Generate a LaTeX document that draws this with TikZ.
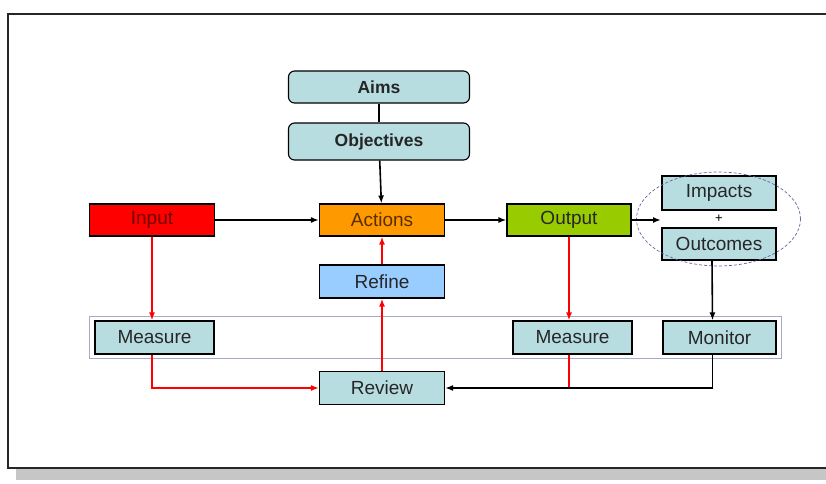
\documentclass[tikz,border=0pt]{standalone}
\usepackage{fontspec}
\setmainfont{Liberation Sans}
\usetikzlibrary{arrows.meta,shapes.geometric}

\definecolor{paleteal}{HTML}{B8DDE1}
\definecolor{boxred}{HTML}{FF0000}
\definecolor{boxorange}{HTML}{FF9900}
\definecolor{boxgreen}{HTML}{99CC00}
\definecolor{boxblue}{HTML}{99CCFF}
\definecolor{bandline}{HTML}{A8A8C8}

\tikzset{
  box/.style={draw, line width=1.1pt, inner sep=0pt, minimum width=125pt,
    minimum height=32pt, font=\fontsize{19}{19}\selectfont, text=black!85},
  goal/.style={box, rounded corners=6pt, fill=paleteal, minimum width=181pt,
    font=\fontsize{17.5}{17.5}\selectfont\bfseries},
  flow/.style={line width=1.6pt, -{Latex[length=8pt,width=6pt]}},
  check/.style={flow, red}
}

\begin{document}
\begin{tikzpicture}[x=1pt, y=-1pt]
  \useasboundingbox (0,0) rectangle (826,483);

  % frame and shadow
  \fill[gray!45] (16,469) rectangle (826,480);
  \draw[line width=2pt, black!85] (8,14) rectangle (832,468);

  % the measuring band
  \draw[bandline, line width=0.9pt] (89,316) rectangle (781,358);

  \node[goal] (aims) at (379, 87) {Aims};
  \node[goal, minimum height=37pt] (obj) at (379, 141.5) {Objectives};

  \node[box, fill=boxred, text=red!45!black] (input) at (152, 220) {Input};
  \node[box, fill=boxorange, text=orange!35!black] (actions) at (382, 220) {Actions};
  \node[box, fill=boxgreen, minimum width=124pt] (output) at (569, 220) {Output};
  \node[box, fill=boxblue, minimum height=33pt] (refine) at (382, 281.5) {Refine};

  \node[box, fill=paleteal, minimum width=114pt, minimum height=34pt] (impacts) at (719, 193) {Impacts};
  \node[box, fill=paleteal, minimum width=114pt] (outcomes) at (719, 244) {Outcomes};
  \node[font=\fontsize{13}{13}\selectfont] (plus) at (719, 219) {+};
  \node[ellipse, draw=gray!80!blue, densely dashed, line width=0.7pt,
    minimum width=164pt, minimum height=94pt] (ring) at (718.5, 219) {};
  \coordinate (gap) at (661, 220);

  \node[box, fill=paleteal, minimum width=119pt, minimum height=33pt] (meas1) at (154.5, 337.5) {Measure};
  \node[box, fill=paleteal, minimum width=119pt, minimum height=33pt] (meas2) at (572.5, 337.5) {Measure};
  \node[box, fill=paleteal, minimum width=113pt, minimum height=33pt] (monitor) at (719.5, 337.5) {Monitor};
  \node[box, fill=paleteal, minimum height=33pt] (review) at (382, 388) {Review};

  % main line
  \draw[line width=1.6pt] (aims) -- (obj);
  \draw[flow] (obj) -- (actions);
  \draw[flow] (input) -- (actions);
  \draw[flow] (actions) -- (output);
  \draw[flow] (output) -- (gap);

  % measuring and review
  \draw[check] (input.south) -- (input.south |- meas1.north);
  \draw[check] (input.south |- meas1.south) |- (review.west);
  \draw[check] (output.south) -- (output.south |- meas2.north);
  \draw[line width=1.6pt, red] (output.south |- meas2.south) -- (output.south |- review.east);
  \draw[flow] ([xshift=-7pt]outcomes.south) -- ([xshift=-7pt]monitor.north);
  \draw[flow] ([xshift=-7pt]monitor.south) |- (review.east);
  \draw[check] (review) -- (refine);
  \draw[check] (refine) -- (actions);
\end{tikzpicture}
\end{document}
